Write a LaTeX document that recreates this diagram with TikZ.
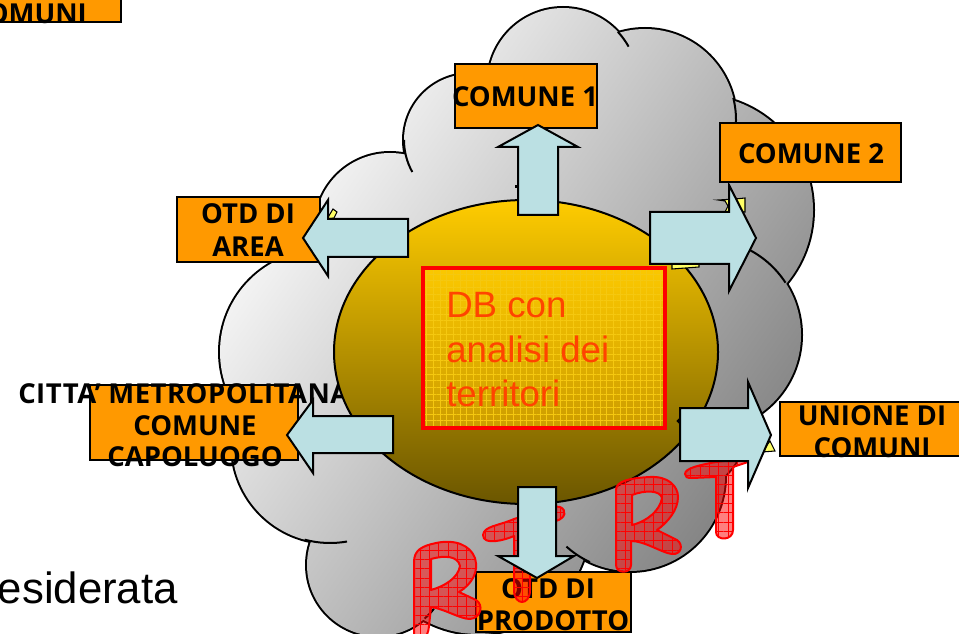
\documentclass[tikz,border=0pt]{standalone}
\usepackage{fontspec}
\setmainfont{Liberation Sans}
\newfontfamily\boxfont[BoldFont=Open Sans Bold]{Open Sans}
\usetikzlibrary{patterns.meta}
\definecolor{boxorange}{HTML}{FF9900}
\definecolor{arrowblue}{HTML}{BBE0E3}
\definecolor{dbred}{HTML}{FF4400}
\definecolor{starry}{HTML}{FFFF66}
\definecolor{elltop}{HTML}{FFCC00}
\definecolor{ellbot}{HTML}{6B5600}
\definecolor{dbtop}{HTML}{FBC800}
\definecolor{dbbot}{HTML}{CC9C00}
\definecolor{dbgrid}{HTML}{F5C810}
\tikzset{
  x=0.75pt,y=-0.75pt,
  edge/.style={draw=black,line width=1.5pt},
  obox/.style={draw=black,line width=1.5pt,fill=boxorange},
  lbl/.style={anchor=base,inner sep=0pt,font=\boxfont\bfseries\fontsize{20.6}{21}\selectfont,text=black},
  dbtxt/.style={anchor=base west,inner sep=0pt,font=\fontsize{27.5}{28}\selectfont,text=dbred},
  barrow/.style={draw=black,line width=1.5pt,fill=arrowblue,line join=miter},
  handfill/.style={fill=red,fill opacity=0.5},
  handgrid/.style={pattern={Hatch[angle=0,distance=7pt,line width=0.3pt]},pattern color=red},
  handline/.style={draw=red,line width=1.5pt,line join=round},
  bit/.style={draw=black,line width=0.8pt,fill=starry}
}
\newcommand{\cloudparts}{
  (563,83) circle[radius=75]
  (645,120) circle[radius=91]
  (698,210) circle[radius=115]
  (705,335) circle[radius=96]
  (630,476) circle[radius=95]
  (670,420) circle[radius=78]
  (478,522) circle[radius=112]
  (378,565) circle[radius=71]
  (330,445) circle[radius=98]
  (322,352) circle[radius=102]
  (390,228) circle[radius=75]
  (470,140) circle[radius=66]
  (520,330) circle[radius=200]
}
\newcommand{\rOneOuter}{(414,640) -- (414,562) .. controls (414,550) and (422,546) .. (436,543) .. controls (455,539) and (470,545) .. (475,558) .. controls (479,572) and (472,584) .. (459,592) -- (476,600) .. controls (484,605) and (481,618) .. (470,619) .. controls (460,619) and (445,609) .. (431,607) -- (429,626) .. controls (428,640) and (420,640) .. (414,640) -- cycle}
\newcommand{\rOneHole}{(431,559) -- (431,590) .. controls (445,586) and (458,578) .. (460,566) .. controls (458,556) and (445,555) .. (431,559) -- cycle}
\newcommand{\tOne}{(483,535) .. controls (484,526) and (498,526) .. (514,519) -- (530,514) .. controls (545,512) and (552,505) .. (560,507) .. controls (567,510) and (566,518) .. (556,521) -- (530,530) -- (530,590) .. controls (530,606) and (514,606) .. (514,590) -- (514,536) .. controls (505,540) and (483,546) .. (483,535) -- cycle}
\newcommand{\rTwoOuter}{(616,565) -- (616,490) .. controls (616,481) and (630,478) .. (650,477) .. controls (668,476) and (678,486) .. (678,497) .. controls (678,510) and (668,522) .. (657,530) -- (677,540) .. controls (684,545) and (681,555) .. (672,554) .. controls (662,553) and (645,541) .. (631,541) -- (631,565) .. controls (631,574) and (616,574) .. (616,565) -- cycle}
\newcommand{\rTwoHole}{(632,495) -- (632,525) .. controls (648,521) and (660,510) .. (662,498) .. controls (660,490) and (645,490) .. (632,495) -- cycle}
\newcommand{\tTwo}{(685,474) .. controls (685,468) and (700,465) .. (716,462) -- (748,458) -- (748,462) -- (733,467) -- (733,530) .. controls (733,541) and (716,541) .. (716,532) -- (716,477) -- (692,478) .. controls (687,478) and (685,477) .. (685,474) -- cycle}
\begin{document}
\begin{tikzpicture}
\useasboundingbox (0,0) rectangle (959,634);
\clip (0,0) rectangle (959,634);
\fill[white] (0,0) rectangle (959,634);

% cloud
\path[draw=black,line width=3pt] \cloudparts;
\shade[top color=white,bottom color=black!50,shading angle=55] \cloudparts;
\draw[edge] (470,140) ++(180:66) arc[start angle=180,end angle=151,radius=66];
\draw[edge] (563,83) ++(-43:75) arc[start angle=-43,end angle=-29,radius=75];
\draw[edge] (645,120) ++(-14:91) arc[start angle=-14,end angle=2,radius=91];
\draw[edge] (705,335) ++(-62:96) arc[start angle=-62,end angle=-33,radius=96];
\draw[edge] (630,476) ++(132:95) arc[start angle=132,end angle=115,radius=95];
\draw[edge] (330,445) ++(105:98) arc[start angle=105,end angle=80,radius=98];
\draw[edge] (378,565) ++(49:71) arc[start angle=49,end angle=38,radius=71];

% orange boxes with their texts
\draw[obox] (-20,-20) rectangle (121,22);
\node[lbl,anchor=base east] (tComuni) at (87,24) {OMUNI};
\draw[obox] (455,64) rectangle (597,128);
\node[lbl] (tComune1) at (525,107) {COMUNE 1};
\draw[obox] (720,123) rectangle (901,182);
\node[lbl] (tComune2) at (811,164) {COMUNE 2};
\draw[obox] (177,197) rectangle (320,262);
\node[lbl] (tOtdA) at (248,224) {OTD DI};
\node[lbl] (tArea) at (248,257) {AREA};
\draw[obox] (90,385) rectangle (298,460);
\node[lbl,anchor=base west] (tCitta) at (18,403) {\addfontfeatures{LetterSpace=1.8}CITTA’ METROPOLITANA};
\node[lbl] (tCom) at (195,435) {COMUNE};
\node[lbl] (tCapo) at (195,466) {CAPOLUOGO};
\draw[obox] (780,402) rectangle (980,456);
\node[lbl] (tUnione) at (872,425) {UNIONE DI};
\node[lbl] (tComuni2) at (872,457) {COMUNI};
\draw[obox] (476,572) rectangle (631,632);
\node[lbl] (tOtdP) at (548,598) {OTD DI};
\node[lbl] (tProd) at (553,630) {PRODOTTO};

% left text
\node[anchor=base east,inner sep=0pt,font=\fontsize{32.8}{33}\selectfont] (tDes) at (178,603) {esiderata};

% central ellipse
\draw[edge,top color=elltop,bottom color=ellbot] (526,352) ellipse[x radius=192,y radius=152];
% DB box
\fill[top color=dbtop,bottom color=dbbot] (423,268) rectangle (665,428);
\fill[pattern={Hatch[angle=0,distance=5pt,line width=0.3pt]},pattern color=dbgrid] (423,268) rectangle (665,428);
\draw[red,line width=3.4pt] (423,268) rectangle (665,428);
\node[dbtxt] (tDb) at (446,317) {DB con};
\node[dbtxt] (tAn) at (446,362) {analisi dei};
\node[dbtxt] (tTe) at (446,406) {territori};

% small star pieces behind the arrows
\draw[bit] (718,200) -- (725,201) -- (728,206) -- (725,212) -- (745,212) -- (745,198) -- (735,199) -- cycle;
\draw[bit] (672,262) -- (672,269) -- (699,267) -- (699,262) -- cycle;
\draw[bit] (327,219) -- (333,209) -- (337,212) -- (334,218) -- cycle;
\draw[bit] (762,452) -- (770,441) -- (775,451) -- cycle;
\fill[black] (515,185) rectangle (519,188);
\draw[bit,fill=black] (677,421) -- (681,417) -- (681,425) -- cycle;

% hand-drawn RT
\foreach \sh in {\tOne,\tTwo}{
  \fill[handfill] \sh;
  \fill[handgrid] \sh;
  \draw[handline] \sh;
}
\fill[handfill,even odd rule] \rOneOuter \rOneHole;
\fill[handgrid,even odd rule] \rOneOuter \rOneHole;
\draw[handline] \rOneOuter \rOneHole;
\fill[handfill,even odd rule] \rTwoOuter \rTwoHole;
\fill[handgrid,even odd rule] \rTwoOuter \rTwoHole;
\draw[handline] \rTwoOuter \rTwoHole;

% block arrows
\draw[barrow] (518,215) -- (558,215) -- (558,147) -- (578,147) -- (538,125) -- (498,147) -- (518,147) -- cycle;
\draw[barrow] (650,212) -- (729,212) -- (729,185) -- (756,238) -- (729,291) -- (729,264) -- (650,264) -- cycle;
\draw[barrow] (408,219) -- (328,219) -- (328,200) -- (303,238) -- (328,276) -- (328,257) -- (408,257) -- cycle;
\draw[barrow] (393,416) -- (313,416) -- (313,400) -- (287,435) -- (313,473) -- (313,453) -- (393,453) -- cycle;
\draw[barrow] (680,408) -- (748,408) -- (748,382) -- (771,435) -- (748,488) -- (748,461) -- (680,461) -- cycle;
\draw[barrow] (518,487) -- (556,487) -- (556,556) -- (574,556) -- (537,578) -- (498,556) -- (518,556) -- cycle;
\end{tikzpicture}
\end{document}
